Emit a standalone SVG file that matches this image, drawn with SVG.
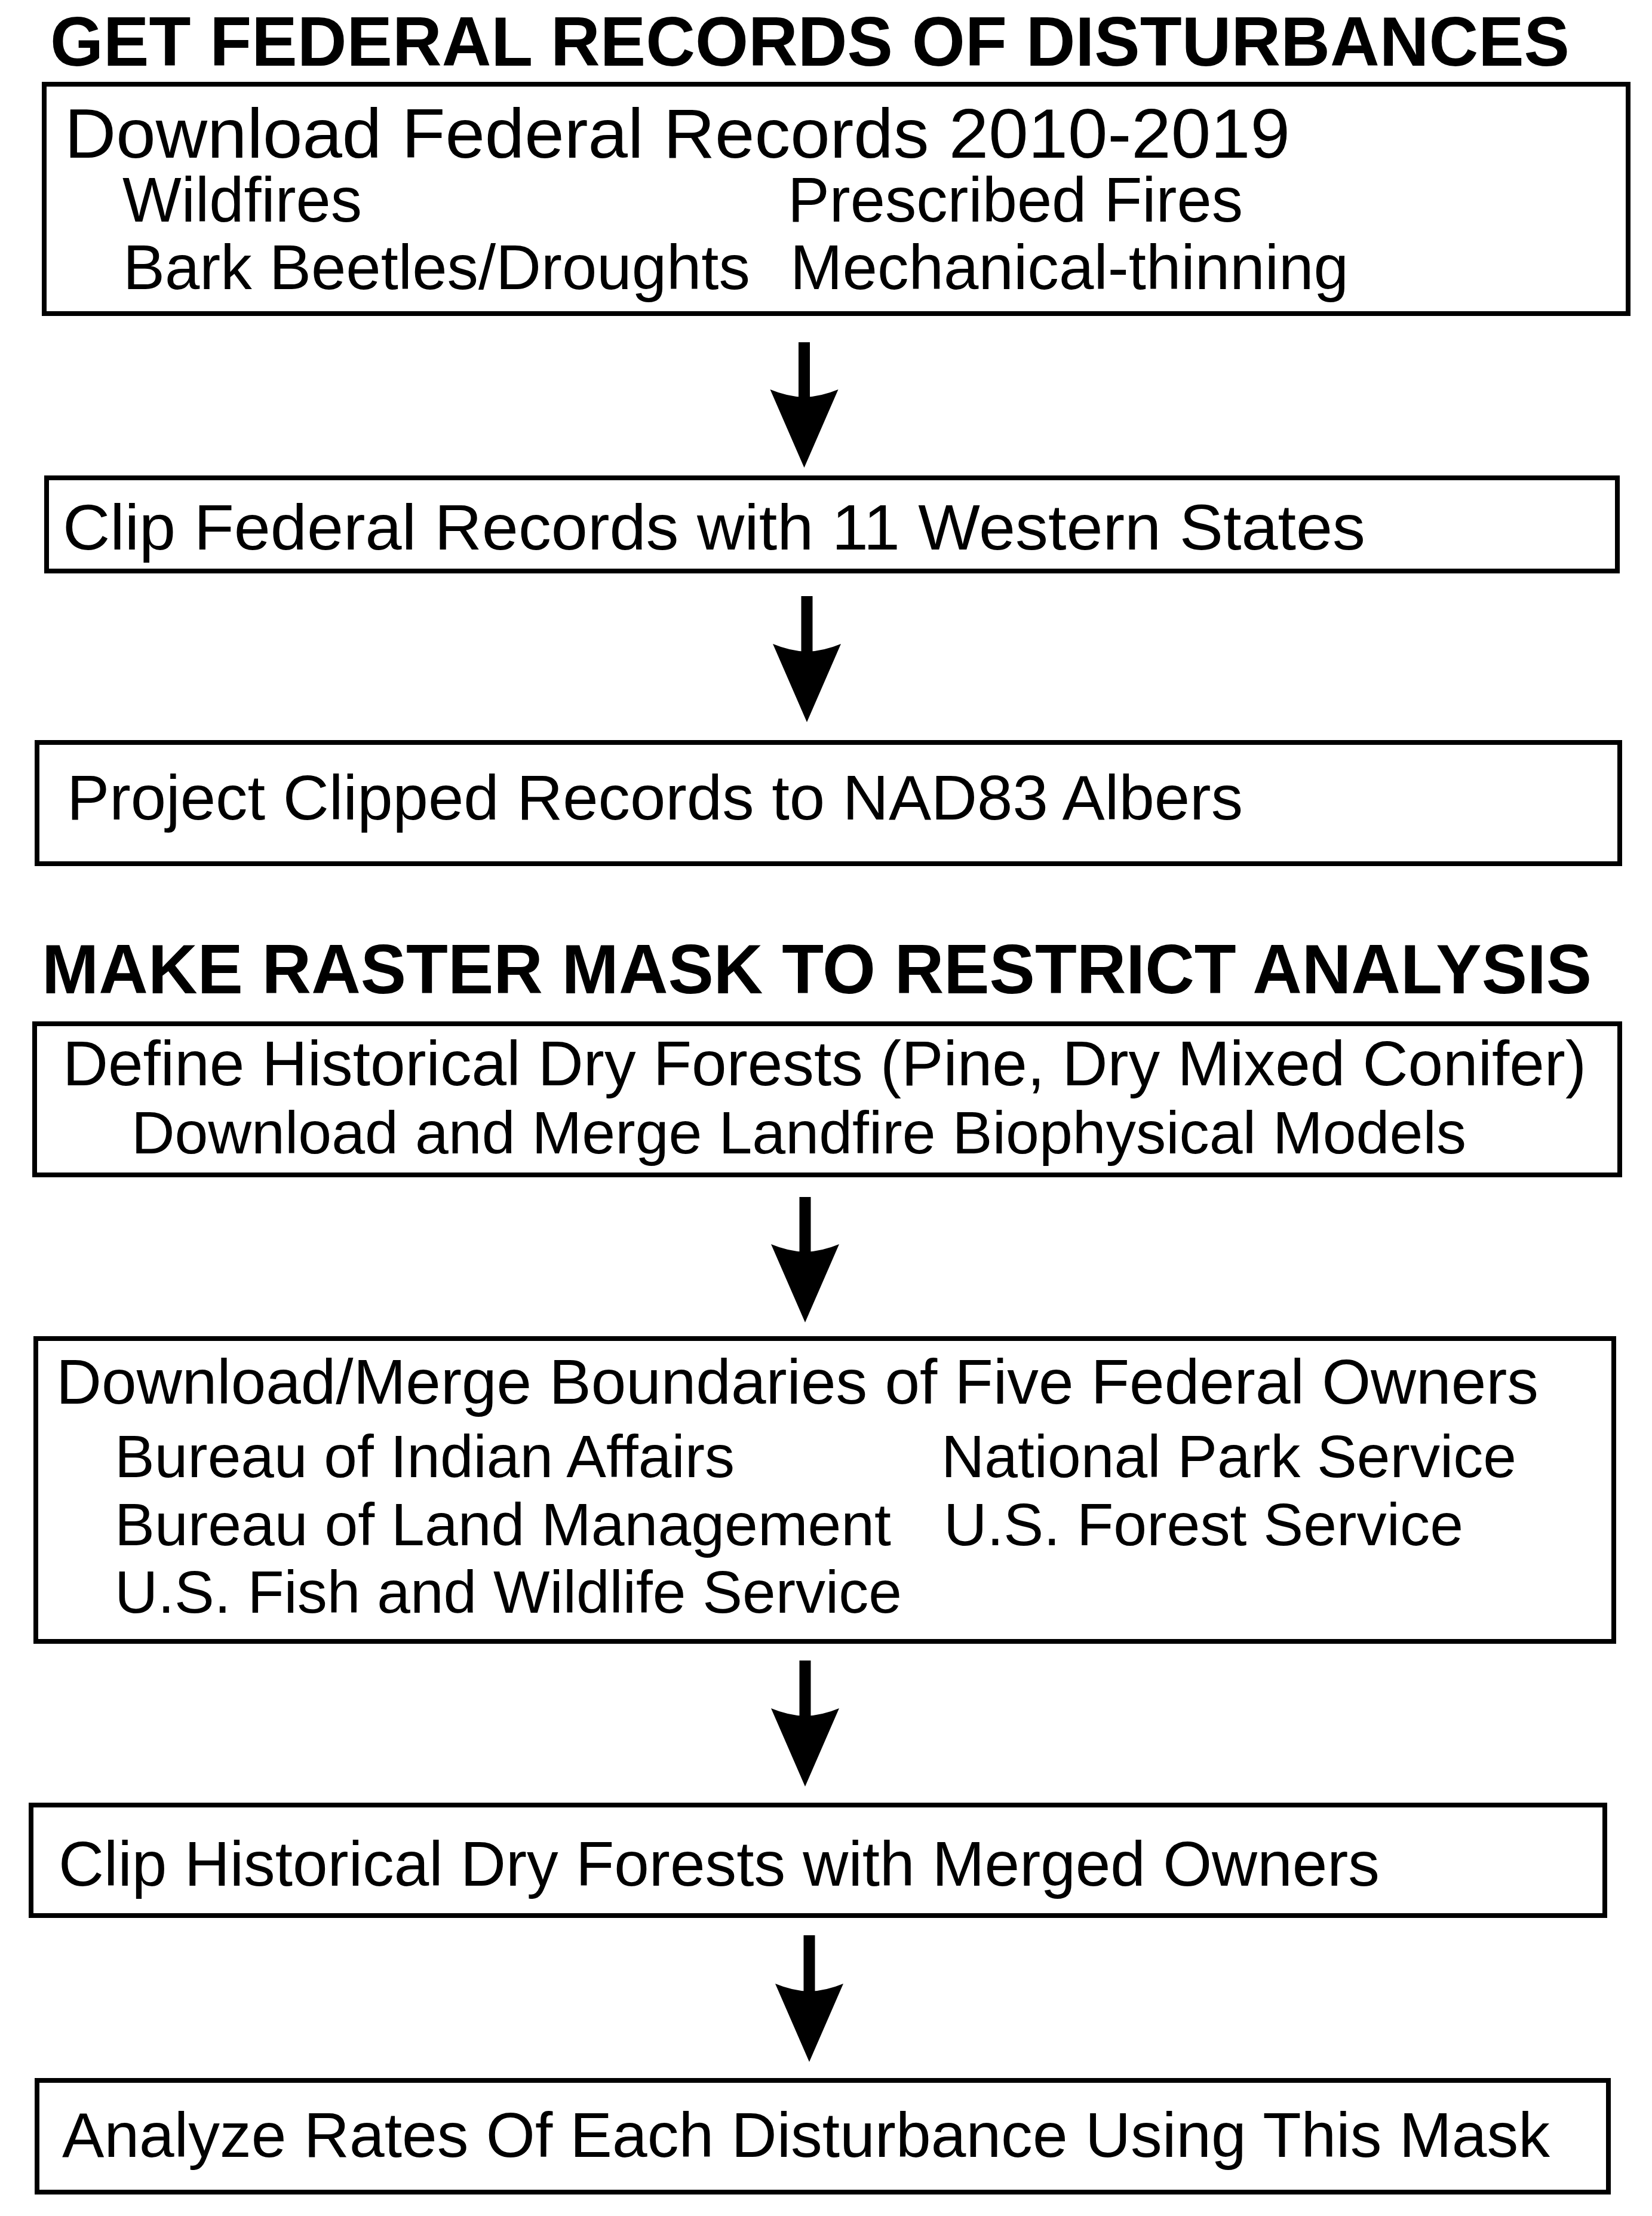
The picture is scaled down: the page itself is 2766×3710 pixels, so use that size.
<svg xmlns="http://www.w3.org/2000/svg" width="2766" height="3710" viewBox="0 0 2766 3710">
<style>
.box{fill:#fff;stroke:#000;stroke-width:8}
.t{font-family:"Liberation Sans",Arial,Helvetica,sans-serif;fill:#000}
.h{font-family:"Liberation Sans",Arial,Helvetica,sans-serif;font-weight:bold;font-size:116px;fill:#000}
.m{font-size:105px}
.s{font-size:100px}
.con{stroke:#000;stroke-width:19;fill:none;marker-end:url(#ah)}
</style>
<defs>
<marker id="ah" markerUnits="userSpaceOnUse" markerWidth="140" markerHeight="124" viewBox="0 -62 140 124" refX="13" refY="0" orient="auto">
<path d="M131,0 L0,57 Q12,28 13,0 Q12,-28 0,-57 Z" fill="#000"/>
</marker>
</defs>
<rect width="2766" height="3710" fill="#fff"/>
<g id="title1"><text class="h" x="84" y="110" textLength="2544" lengthAdjust="spacingAndGlyphs">GET FEDERAL RECORDS OF DISTURBANCES</text></g>
<g id="node1">
<rect class="box" x="74" y="141" width="2652" height="384"/>
<text class="t" x="108" y="264" font-size="117" textLength="2052" lengthAdjust="spacingAndGlyphs">Download Federal Records 2010-2019</text>
<text class="t m" x="205" y="371" textLength="401" lengthAdjust="spacingAndGlyphs">Wildfires</text>
<text class="t m" x="1319" y="371" textLength="762" lengthAdjust="spacingAndGlyphs">Prescribed Fires</text>
<text class="t m" x="206" y="484" textLength="1050" lengthAdjust="spacingAndGlyphs">Bark Beetles/Droughts</text>
<text class="t m" x="1323" y="484" textLength="935" lengthAdjust="spacingAndGlyphs">Mechanical-thinning</text>
</g>
<g id="node2">
<rect class="box" x="78" y="800" width="2630" height="156"/>
<text class="t" x="105" y="920" font-size="107" textLength="2181" lengthAdjust="spacingAndGlyphs">Clip Federal Records with 11 Western States</text>
</g>
<g id="node3">
<rect class="box" x="62" y="1243" width="2650" height="203"/>
<text class="t m" x="112" y="1372" textLength="1969" lengthAdjust="spacingAndGlyphs">Project Clipped Records to NAD83 Albers</text>
</g>
<g id="title2"><text class="h" x="70" y="1663" textLength="2595" lengthAdjust="spacingAndGlyphs">MAKE RASTER MASK TO RESTRICT ANALYSIS</text></g>
<g id="node4">
<rect class="box" x="58" y="1714" width="2654" height="253"/>
<text class="t m" x="105" y="1817" textLength="2551" lengthAdjust="spacingAndGlyphs">Define Historical Dry Forests (Pine, Dry Mixed Conifer)</text>
<text class="t" x="220" y="1931" font-size="101" textLength="2235" lengthAdjust="spacingAndGlyphs">Download and Merge Landfire Biophysical Models</text>
</g>
<g id="node5">
<rect class="box" x="60" y="2241" width="2642" height="507"/>
<text class="t m" x="94" y="2350" textLength="2482" lengthAdjust="spacingAndGlyphs">Download/Merge Boundaries of Five Federal Owners</text>
<text class="t s" x="192" y="2473" textLength="1038" lengthAdjust="spacingAndGlyphs">Bureau of Indian Affairs</text>
<text class="t s" x="1576" y="2473" textLength="963" lengthAdjust="spacingAndGlyphs">National Park Service</text>
<text class="t s" x="192" y="2587" textLength="1300" lengthAdjust="spacingAndGlyphs">Bureau of Land Management</text>
<text class="t s" x="1580" y="2587" textLength="870" lengthAdjust="spacingAndGlyphs">U.S. Forest Service</text>
<text class="t s" x="192" y="2700" textLength="1318" lengthAdjust="spacingAndGlyphs">U.S. Fish and Wildlife Service</text>
</g>
<g id="node6">
<rect class="box" x="52" y="3022" width="2635" height="185"/>
<text class="t m" x="98" y="3157" textLength="2212" lengthAdjust="spacingAndGlyphs">Clip Historical Dry Forests with Merged Owners</text>
</g>
<g id="node7">
<rect class="box" x="62" y="3483" width="2631" height="187"/>
<text class="t m" x="104" y="3611" textLength="2491" lengthAdjust="spacingAndGlyphs">Analyze Rates Of Each Disturbance Using This Mask</text>
</g>
<g id="connectors">
<line class="con" x1="1346.5" y1="573" x2="1346.5" y2="665"/>
<line class="con" x1="1351" y1="998" x2="1351" y2="1091"/>
<line class="con" x1="1348" y1="2004" x2="1348" y2="2096"/>
<line class="con" x1="1348" y1="2780" x2="1348" y2="2873"/>
<line class="con" x1="1355" y1="3240" x2="1355" y2="3334"/>
</g>
</svg>
